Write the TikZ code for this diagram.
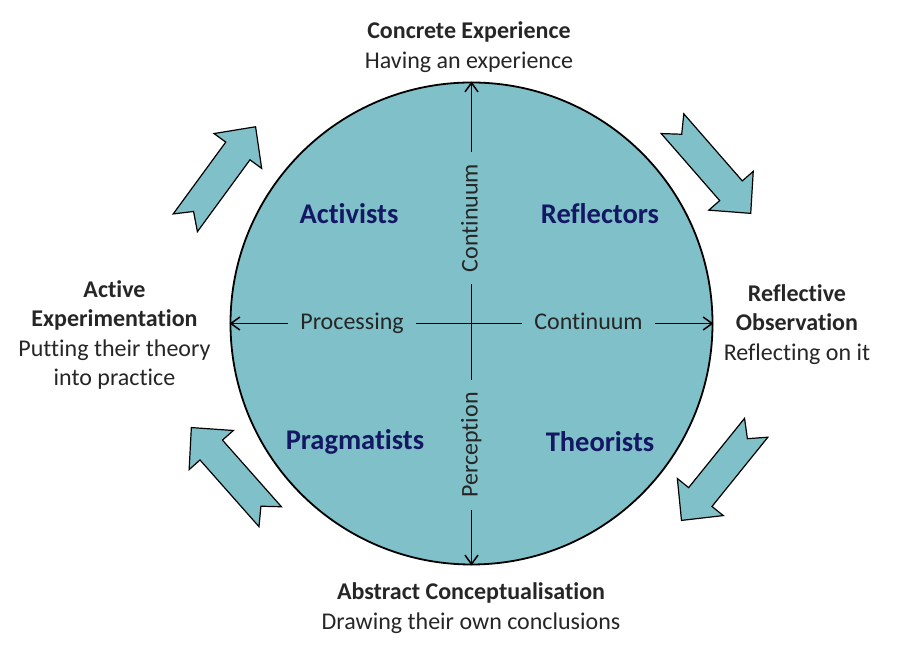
\documentclass[tikz,border=0pt]{standalone}
\usepackage{fontspec}
\setmainfont[Ligatures=NoCommon]{Carlito}
\usepackage{tikz}
\usetikzlibrary{arrows.meta}
\definecolor{discfill}{RGB}{128,192,200}
\definecolor{quadblue}{RGB}{20,24,100}
\definecolor{textgray}{RGB}{38,38,38}
\tikzstyle{disc}=[circle, draw, line width=1.8pt, fill=discfill, minimum size=482pt, inner sep=0pt]
\tikzstyle{quadrant}=[font=\fontsize{28.5}{34}\selectfont\bfseries, text=quadblue]
\tikzstyle{axislabel}=[font=\fontsize{24}{29}\selectfont, text=textgray, inner xsep=12pt, inner ysep=0pt, text height=17pt, text depth=5pt]
\tikzstyle{stage}=[align=center, font=\fontsize{24}{29.5}\selectfont, text=textgray]
\tikzstyle{axis}=[line width=1.5pt]
\tikzstyle{flow}=[draw, line width=1.2pt, fill=discfill, line join=miter]
\providecommand{\flowarrow}[3]{\path[flow, shift={(#1,#2)}, rotate=#3] (14,0) -- (0,15) -- (89,15) -- (89,29.5) -- (119,0) -- (89,-29.5) -- (89,-15) -- (0,-15) -- cycle;}

\begin{document}
\begin{tikzpicture}[x=1pt, y=1pt,
    >={Straight Barb[length=9pt,width=13pt]}
]
\fill[white] (0,0) rectangle (900,660);
\useasboundingbox (0,0) rectangle (900,660);
% the learning cycle
\node[disc] (disc) at (471.5,336.5) {};
\node[axislabel, rotate=90] (conttop) at (471.5,442) {Continuum};
\node[axislabel, rotate=90] (perc) at (471.5,215) {Perception};
\node[axislabel] (proc) at (352,336.5) {Processing};
\node[axislabel] (contright) at (588.5,336.5) {Continuum};
\draw[axis, ->] (conttop) -- (disc.north);
\draw[axis, ->] (perc) -- (disc.south);
\draw[axis, ->] (proc) -- (disc.west);
\draw[axis, ->] (contright) -- (disc.east);
\draw[axis] (conttop) -- (perc);
\draw[axis] (proc) -- (contright);
% learning styles
\node[quadrant] (activists) at (349,446) {Activists};
\node[quadrant] (reflectors) at (600,446) {Reflectors};
\node[quadrant] (pragmatists) at (355,218) {Pragmatists};
\node[quadrant] (theorists) at (600,218) {Theorists};
% stages
\node[stage] (ce) at (469,613) {\textbf{Concrete Experience}\\Having an experience};
\node[stage] (ro) at (797,335.5) {\textbf{Reflective}\\\textbf{Observation}\\Reflecting on it};
\node[stage] (ac) at (471,52) {\textbf{Abstract Conceptualisation}\\Drawing their own conclusions};
\node[stage] (ae) at (114.5,325) {\textbf{Active}\\\textbf{Experimentation}\\Putting their theory\\into practice};
% cycle arrows
\flowarrow{185.3}{437.2}{53.8}
\flowarrow{672.5}{536.3}{-48.9}
\flowarrow{270.2}{143.3}{131.5}
\flowarrow{756.2}{232.2}{231.1}
\end{tikzpicture}
\end{document}
